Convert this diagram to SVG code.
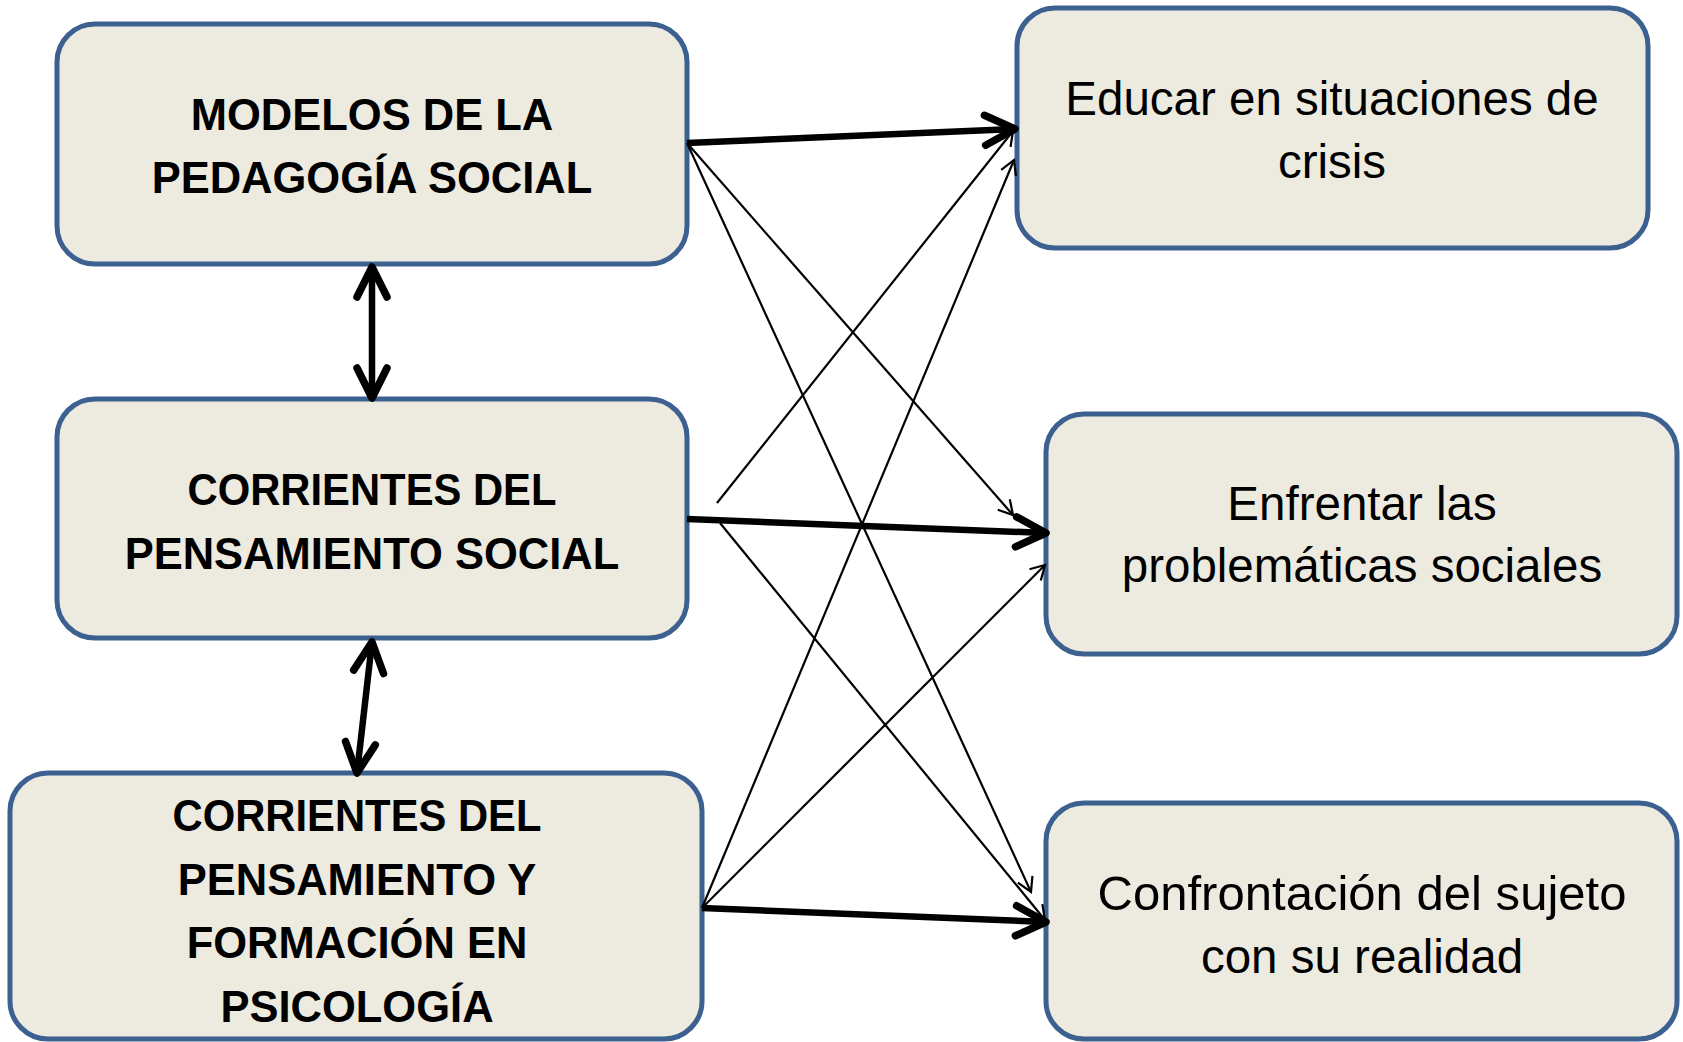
<svg xmlns="http://www.w3.org/2000/svg" width="1683" height="1042" viewBox="0 0 1683 1042">
<style>
.box{fill:#EDEBE0;stroke:#3C6090;stroke-width:5}
.tb{font-family:"Liberation Sans",Arial,sans-serif;font-weight:bold;font-size:43.5px;fill:#000;text-anchor:middle}
.tr{font-family:"Liberation Sans",Arial,sans-serif;font-size:47.5px;fill:#000;text-anchor:middle}
.thick{stroke:#000;stroke-width:6.5;fill:none;marker-end:url(#big)}
.dbl{stroke:#000;stroke-width:6.5;fill:none;marker-start:url(#big);marker-end:url(#big)}
.thin{stroke:#000;stroke-width:2.2;fill:none;marker-end:url(#small)}
</style>
<defs>
<marker id="big" markerUnits="userSpaceOnUse" viewBox="-40 -22 46 44" markerWidth="46" markerHeight="44" refX="0" refY="0" orient="auto-start-reverse" overflow="visible">
<path d="M-30,-15 L0,0 L-30,15" fill="none" stroke="#000" stroke-width="7.5" stroke-linecap="round" stroke-linejoin="round"/>
</marker>
<marker id="small" markerUnits="userSpaceOnUse" viewBox="-20 -12 24 24" markerWidth="24" markerHeight="24" refX="0" refY="0" orient="auto" overflow="visible">
<path d="M-14,-8 L0,0 L-14,8" fill="none" stroke="#000" stroke-width="2.2"/>
</marker>
</defs>
<rect width="1683" height="1042" fill="#fff"/>
<g id="n-modelos">
<rect class="box" x="57" y="24" width="630" height="240" rx="38"/>
<text class="tb" x="372" y="130">MODELOS DE LA</text>
<text class="tb" x="372" y="193">PEDAGOGÍA SOCIAL</text>
</g>
<g id="n-corrientes-social">
<rect class="box" x="57" y="399" width="630" height="239" rx="38"/>
<text class="tb" x="372" y="505" textLength="369" lengthAdjust="spacingAndGlyphs">CORRIENTES DEL</text>
<text class="tb" x="372" y="569">PENSAMIENTO SOCIAL</text>
</g>
<g id="n-corrientes-psico">
<rect class="box" x="10" y="773" width="692" height="266" rx="38"/>
<text class="tb" x="357" y="831" textLength="369" lengthAdjust="spacingAndGlyphs">CORRIENTES DEL</text>
<text class="tb" x="357" y="895">PENSAMIENTO Y</text>
<text class="tb" x="357" y="958">FORMACIÓN EN</text>
<text class="tb" x="357" y="1022">PSICOLOGÍA</text>
</g>
<g id="n-educar">
<rect class="box" x="1017" y="8" width="631" height="240" rx="38"/>
<text class="tr" x="1332" y="115">Educar en situaciones de</text>
<text class="tr" x="1332" y="178">crisis</text>
</g>
<g id="n-enfrentar">
<rect class="box" x="1046" y="414" width="631" height="240" rx="38"/>
<text class="tr" x="1362" y="520">Enfrentar las</text>
<text class="tr" x="1362" y="582">problemáticas sociales</text>
</g>
<g id="n-confrontacion">
<rect class="box" x="1046" y="803" width="631" height="236" rx="38"/>
<text class="tr" x="1362" y="910" textLength="529" lengthAdjust="spacingAndGlyphs">Confrontación del sujeto</text>
<text class="tr" x="1362" y="973">con su realidad</text>
</g>
<g id="connectors">
<line class="thin" x1="687" y1="143" x2="1013" y2="515"/>
<line class="thin" x1="687" y1="143" x2="1031" y2="892"/>
<line class="thin" x1="717" y1="503" x2="1013" y2="131"/>
<line class="thin" x1="720" y1="523" x2="1045" y2="920"/>
<line class="thin" x1="702" y1="908" x2="1014" y2="160"/>
<line class="thin" x1="702" y1="908" x2="1045" y2="565"/>
<line class="thick" x1="687" y1="143" x2="1015" y2="129"/>
<line class="thick" x1="687" y1="519" x2="1046" y2="533"/>
<line class="thick" x1="702" y1="908" x2="1046" y2="922"/>
<line class="dbl" x1="372" y1="267" x2="372" y2="398"/>
<line class="dbl" x1="372" y1="642" x2="357" y2="773"/>
</g>
</svg>
